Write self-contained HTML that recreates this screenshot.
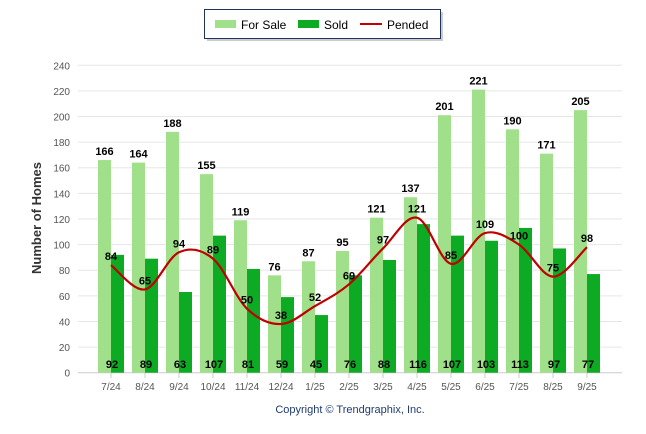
<!DOCTYPE html>
<html><head><meta charset="utf-8"><style>
body{margin:0;background:#fff;width:646px;height:434px;overflow:hidden;font-family:"Liberation Sans",sans-serif}
</style></head><body>
<svg id="c" width="646" height="434" style="position:absolute;left:0;top:0"></svg>
<script>
const categories=["7/24","8/24","9/24","10/24","11/24","12/24","1/25","2/25","3/25","4/25","5/25","6/25","7/25","8/25","9/25"];
const forSale=[166,164,188,155,119,76,87,95,121,137,201,221,190,171,205];
const sold=[92,89,63,107,81,59,45,76,88,116,107,103,113,97,77];
const pended=[84,65,94,89,50,38,52,69,97,121,85,109,100,75,98];
const yTicks=[0,20,40,60,80,100,120,140,160,180,200,220,240];
const NS="http://www.w3.org/2000/svg";
const svg=document.getElementById('c');
const y0=372.7,k=1.281;
const Y=v=>y0-v*k;
const X=i=>111+34*i;
function mk(t,a,p){const e=document.createElementNS(NS,t);for(const n in a)e.setAttribute(n,a[n]);(p||svg).appendChild(e);return e;}
function tx(x,y,s,a){const e=mk('text',Object.assign({x:x,y:y},a));e.textContent=s;return e;}
// grid
yTicks.forEach(v=>{
 const g=mk('line',{x1:78,x2:622,y1:Y(v),y2:Y(v),stroke:v==0?'#ccc':'#e6e6e6','stroke-width':1});
 
 
 const t=tx(70,Y(v)+4,String(v),{'font-size':10,fill:'#555','text-anchor':'end'});
 
 
});
const yt=tx(0,0,'Number of Homes',{'font-size':13,'font-weight':'bold',fill:'#333','text-anchor':'middle',transform:'translate(41,218) rotate(-90)'});


categories.forEach((c,i)=>{
 const cx=X(i);
 const tk=mk('line',{x1:cx,x2:cx,y1:373,y2:378,stroke:'#ccc'});
 
 
 const b1=mk('rect',{x:cx-13,y:Y(forSale[i]),width:13,height:forSale[i]*k,fill:'#a0e08a'});
 
 
 const b2=mk('rect',{x:cx,y:Y(sold[i]),width:13,height:sold[i]*k,fill:'#0daa24'});
 
 
 const l1=tx(cx-6.5,Y(forSale[i])-5,String(forSale[i]),{'font-size':11,'font-weight':'bold','text-anchor':'middle',fill:'#000'});
 
 
 const l2=tx(cx+1,368,String(sold[i]),{'font-size':11,'font-weight':'bold','text-anchor':'middle',fill:'#000'});
 
 
 const xl=tx(cx,390,c,{'font-size':10,fill:'#555','text-anchor':'middle'});
 
 
});
// smooth line (catmull-rom)
const pts=pended.map((v,i)=>[X(i),Y(v)]);
let d='M'+pts[0][0]+','+pts[0][1];
for(let i=0;i<pts.length-1;i++){
 const p0=pts[i-1]||pts[i],p1=pts[i],p2=pts[i+1],p3=pts[i+2]||p2;
 const t=1/6;
 d+=' C'+(p1[0]+(p2[0]-p0[0])*t)+','+(p1[1]+(p2[1]-p0[1])*t)+' '+(p2[0]-(p3[0]-p1[0])*t)+','+(p2[1]-(p3[1]-p1[1])*t)+' '+p2[0]+','+p2[1];
}
const ln=mk('path',{d:d,fill:'none',stroke:'#c00000','stroke-width':2.2});


pended.forEach((v,i)=>{
 const t=tx(X(i),Y(v)-5,String(v),{'font-size':11,'font-weight':'bold','text-anchor':'middle',fill:'#000'});
 
 
});
const cp=tx(350,413,'Copyright \u00a9 Trendgraphix, Inc.',{'font-size':11,fill:'#1f3b73','text-anchor':'middle'});


// legend
const lg=mk('g',{});


mk('rect',{x:207,y:12,width:236,height:29,fill:'#999',opacity:0.5},lg);
mk('rect',{x:204.5,y:9.5,width:236,height:29,fill:'#fff',stroke:'#1f3460','stroke-width':1},lg);
const e1=mk('rect',{x:215,y:20,width:21,height:8,fill:'#a0e08a'},lg);


const e2=mk('rect',{x:298,y:20,width:21,height:8,fill:'#0daa24'},lg);


const e3=mk('line',{x1:360,x2:382,y1:24,y2:24,stroke:'#c00000','stroke-width':2},lg);


[['For Sale',241],['Sold',324],['Pended',387]].forEach(a=>{
 const t=mk('text',{x:a[1],y:29,'font-size':12,fill:'#000'},lg);t.textContent=a[0];
 
 
});
</script>
</body></html>
